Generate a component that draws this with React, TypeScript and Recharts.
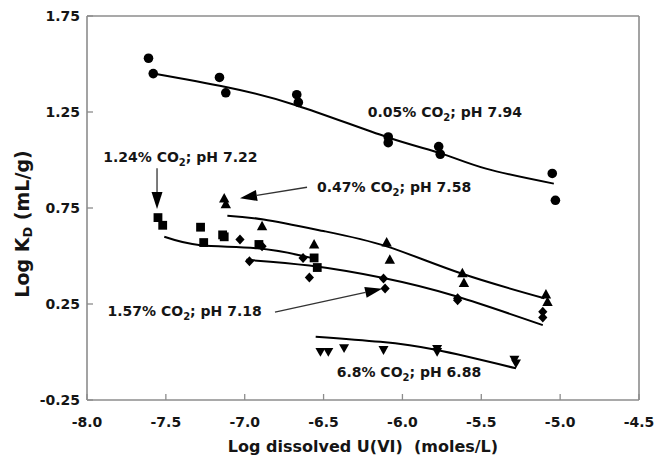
import React from 'react';
import {
  ComposedChart, XAxis, YAxis, Scatter, Line, ReferenceDot, ReferenceLine, Label,
} from 'recharts';

// ---- Data (Log dissolved U(VI) vs Log KD) ----
const co2_005_x = [-7.61, -7.58, -7.16, -7.12, -6.67, -6.66, -6.09, -6.09, -5.77, -5.76, -5.05, -5.03];
const co2_005_y = [1.53, 1.45, 1.43, 1.35, 1.34, 1.30, 1.12, 1.09, 1.07, 1.03, 0.93, 0.79];
const fit_005_x = [-7.58, -7.12, -6.67, -6.10, -5.76, -5.47, -5.04];
const fit_005_y = [1.45, 1.38, 1.284, 1.12, 1.036, 0.955, 0.877];

const co2_047_x = [-7.13, -7.12, -6.89, -6.56, -6.10, -6.08, -5.62, -5.61, -5.09, -5.08];
const co2_047_y = [0.80, 0.77, 0.655, 0.56, 0.57, 0.48, 0.41, 0.36, 0.30, 0.26];
const fit_047_x = [-7.11, -6.88, -6.50, -6.10, -5.63, -5.10];
const fit_047_y = [0.71, 0.69, 0.63, 0.55, 0.41, 0.28];

const co2_124_x = [-7.55, -7.52, -7.28, -7.26, -7.14, -7.13, -6.91, -6.56, -6.54];
const co2_124_y = [0.70, 0.66, 0.65, 0.57, 0.61, 0.60, 0.56, 0.49, 0.44];
const fit_124_x = [-7.51, -7.28, -6.92, -6.63, -6.55];
const fit_124_y = [0.60, 0.556, 0.54, 0.50, 0.485];

const co2_157_x = [-7.03, -6.89, -6.97, -6.63, -6.59, -6.12, -6.11, -5.65, -5.65, -5.11, -5.11];
const co2_157_y = [0.586, 0.551, 0.473, 0.49, 0.388, 0.383, 0.331, 0.28, 0.27, 0.21, 0.18];
const fit_157_x = [-6.99, -6.59, -6.12, -5.66, -5.11];
const fit_157_y = [0.48, 0.45, 0.385, 0.29, 0.14];

const co2_68_x = [-6.52, -6.47, -6.37, -6.12, -5.78, -5.78, -5.29, -5.28];
const co2_68_y = [0.00, 0.00, 0.02, 0.01, 0.015, 0.00, -0.04, -0.06];
const fit_68_x = [-6.55, -6.14, -5.78, -5.28];
const fit_68_y = [0.08, 0.053, 0.01, -0.085];

const X_TICKS = [-8, -7.5, -7, -6.5, -6, -5.5, -5, -4.5];
const Y_TICKS = [-0.25, 0.25, 0.75, 1.25, 1.75];

// annotations: text pieces before / after subscript "2"
const ann_pre = ['0.05% CO', '1.24% CO', '0.47% CO', '1.57% CO', '6.8% CO'];
const ann_post = ['; pH 7.94', '; pH 7.22', '; pH 7.58', '; pH 7.18', '; pH 6.88'];
const ann_x = [-6.22, -7.897, -6.542, -7.87, -6.417];
const ann_y = [1.222, 0.988, 0.832, 0.187, -0.130];

// arrows: tail -> tip
const arrow_x1 = [-7.556, -6.605, -6.808];
const arrow_y1 = [0.957, 0.858, 0.208];
const arrow_x2 = [-7.556, -7.03, -6.129];
const arrow_y2 = [0.745, 0.801, 0.33];

const zip = (xs: number[], ys: number[]) => xs.map((x, i) => ({ x, y: ys[i] }));

const FONT = '"DejaVu Sans", sans-serif';
const AXIS_COLOR = '#8c8c8c';
const TEXT_COLOR = '#151515';

const CircleShape = (p: any) => <circle cx={p.cx} cy={p.cy} r={4.8} fill="#000" />;
const SquareShape = (p: any) => <rect x={p.cx - 4.4} y={p.cy - 4.4} width={8.8} height={8.8} fill="#000" />;
const TriUpShape = (p: any) => (
  <polygon points={`${p.cx},${p.cy - 5.5} ${p.cx + 5.2},${p.cy + 4} ${p.cx - 5.2},${p.cy + 4}`} fill="#000" />
);
const DiamondShape = (p: any) => (
  <polygon points={`${p.cx},${p.cy - 5} ${p.cx + 4.6},${p.cy} ${p.cx},${p.cy + 5} ${p.cx - 4.6},${p.cy}`} fill="#000" />
);
const TriDownShape = (p: any) => (
  <polygon points={`${p.cx - 5},${p.cy - 4} ${p.cx + 5},${p.cy - 4} ${p.cx},${p.cy + 4.8}`} fill="#000" />
);

const makeAnnotation = (i: number) => (p: any) => (
  <text x={p.cx} y={p.cy} fontFamily={FONT} fontWeight="bold" fontSize={14} fill={TEXT_COLOR}>
    {ann_pre[i]}
    <tspan dy={4} fontSize={10}>2</tspan>
    <tspan dy={-4}>{ann_post[i]}</tspan>
  </text>
);

const ArrowShape = (p: any) => {
  const { x1, y1, x2, y2 } = p;
  const dx = x2 - x1;
  const dy = y2 - y1;
  const len = Math.sqrt(dx * dx + dy * dy) || 1;
  const ux = dx / len;
  const uy = dy / len;
  const hl = 17;
  const hw = 5.5;
  const bx = x2 - ux * hl;
  const by = y2 - uy * hl;
  const pts = `${x2},${y2} ${bx - uy * hw},${by + ux * hw} ${bx + uy * hw},${by - ux * hw}`;
  return (
    <g>
      <line x1={x1} y1={y1} x2={bx} y2={by} stroke="#333" strokeWidth={1.3} />
      <polygon points={pts} fill="#000" />
    </g>
  );
};

const YTitle = (props: any) => {
  const vb = props.viewBox || { x: 0, y: 0, width: 0, height: 0 };
  const cx = vb.x + 22;
  const cy = vb.y + vb.height / 2 + 16;
  return (
    <text
      x={cx}
      y={cy}
      transform={`rotate(-90, ${cx}, ${cy})`}
      textAnchor="middle"
      dominantBaseline="central"
      fontFamily={FONT}
      fontWeight="bold"
      fontSize={19}
      fill={TEXT_COLOR}
    >
      Log K<tspan dy={5} fontSize={13}>D</tspan>
      <tspan dy={-5}> (mL/g)</tspan>
    </text>
  );
};

const tickStyle = { fontFamily: FONT, fontWeight: 'bold' as const, fontSize: 14, fill: TEXT_COLOR };

export default function App() {
  const series = [
    { data: zip(co2_005_x, co2_005_y), shape: CircleShape },
    { data: zip(co2_047_x, co2_047_y), shape: TriUpShape },
    { data: zip(co2_124_x, co2_124_y), shape: SquareShape },
    { data: zip(co2_157_x, co2_157_y), shape: DiamondShape },
    { data: zip(co2_68_x, co2_68_y), shape: TriDownShape },
  ];
  const fits = [
    zip(fit_005_x, fit_005_y),
    zip(fit_047_x, fit_047_y),
    zip(fit_124_x, fit_124_y),
    zip(fit_157_x, fit_157_y),
    zip(fit_68_x, fit_68_y),
  ];

  return (
    <div style={{ position: 'absolute', left: 0, top: 0, background: '#fff' }}>
      <ComposedChart width={657} height={460} margin={{ top: 15, right: 17, bottom: 0, left: 0 }}>
        <XAxis
          dataKey="x"
          type="number"
          domain={[-8, -4.5]}
          ticks={X_TICKS}
          interval={0}
          height={60}
          tickSize={-6}
          tickMargin={23}
          tickFormatter={(v: number) => v.toFixed(1)}
          tick={tickStyle}
          axisLine={{ stroke: AXIS_COLOR, strokeWidth: 1.6 }}
          tickLine={{ stroke: AXIS_COLOR, strokeWidth: 1.3 }}
        >
          <Label
            value={'Log dissolved U(VI)\u00A0 (moles/L)'}
            position="insideBottom"
            offset={8}
            style={{ fontFamily: FONT, fontWeight: 'bold', fontSize: 16, fill: TEXT_COLOR }}
          />
        </XAxis>
        <XAxis
          xAxisId="top"
          orientation="top"
          dataKey="x"
          type="number"
          domain={[-8, -4.5]}
          ticks={X_TICKS}
          interval={0}
          height={1}
          tickSize={-6}
          tickFormatter={() => ''}
          axisLine={{ stroke: AXIS_COLOR, strokeWidth: 1.6 }}
          tickLine={{ stroke: AXIS_COLOR, strokeWidth: 1.3 }}
        />
        <YAxis
          dataKey="y"
          type="number"
          domain={[-0.25, 1.75]}
          ticks={Y_TICKS}
          interval={0}
          width={87}
          tickSize={-6}
          tickMargin={13}
          tickFormatter={(v: number) => v.toFixed(2)}
          tick={tickStyle}
          axisLine={{ stroke: AXIS_COLOR, strokeWidth: 1.6 }}
          tickLine={{ stroke: AXIS_COLOR, strokeWidth: 1.3 }}
          label={<YTitle />}
        />
        <YAxis
          yAxisId="right"
          orientation="right"
          dataKey="y"
          type="number"
          domain={[-0.25, 1.75]}
          ticks={Y_TICKS}
          interval={0}
          width={1}
          tickSize={-6}
          tickFormatter={() => ''}
          axisLine={{ stroke: AXIS_COLOR, strokeWidth: 1.6 }}
          tickLine={{ stroke: AXIS_COLOR, strokeWidth: 1.3 }}
        />
        {fits.map((d, i) => (
          <Line
            key={'fit' + i}
            data={d}
            dataKey="y"
            type="natural"
            stroke="#000"
            strokeWidth={2}
            dot={false}
            activeDot={false}
            isAnimationActive={false}
          />
        ))}
        {series.map((s, i) => (
          <Scatter key={'sc' + i} data={s.data} shape={s.shape} isAnimationActive={false} />
        ))}
        {arrow_x1.map((x1, i) => (
          <ReferenceLine
            key={'ar' + i}
            segment={[{ x: x1, y: arrow_y1[i] }, { x: arrow_x2[i], y: arrow_y2[i] }]}
            shape={ArrowShape}
          />
        ))}
        {ann_x.map((x, i) => (
          <ReferenceDot key={'an' + i} x={x} y={ann_y[i]} r={0} shape={makeAnnotation(i)} />
        ))}
      </ComposedChart>
    </div>
  );
}
